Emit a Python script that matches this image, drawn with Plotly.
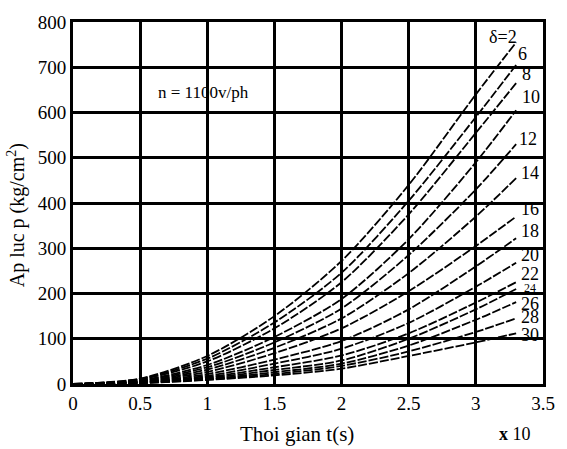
import plotly.graph_objects as go

# Time (x10 s) sample points
t = [0, 0.5, 1.0, 1.5, 2.0, 2.5, 3.0, 3.3]

# Pressure curves p (kg/cm^2) for each delta value
deltas = [2, 6, 8, 10, 12, 14, 16, 18, 20, 22, 24, 26, 28, 30]
p_d2  = [0, 12, 62, 150, 272, 440, 640, 755]
p_d6  = [0, 11, 56, 136, 246, 405, 590, 705]
p_d8  = [0, 10, 50, 123, 225, 375, 555, 665]
p_d10 = [0, 8, 42, 104, 188, 320, 490, 605]
p_d12 = [0, 7, 37, 92, 167, 285, 430, 530]
p_d14 = [0, 6, 32, 80, 145, 245, 370, 455]
p_d16 = [0, 5, 27, 68, 123, 205, 305, 370]
p_d18 = [0, 4, 22, 54, 95, 165, 260, 322]
p_d20 = [0, 4, 18, 45, 78, 135, 215, 268]
p_d22 = [0, 3, 15, 37, 63, 112, 180, 225]
p_d24 = [0, 3, 13, 31, 52, 100, 165, 210]
p_d26 = [0, 3, 11, 26, 45, 85, 142, 181]
p_d28 = [0, 2, 10, 22, 40, 72, 115, 145]
p_d30 = [0, 2, 9, 19, 34, 62, 92, 112]
series = [p_d2, p_d6, p_d8, p_d10, p_d12, p_d14, p_d16, p_d18,
          p_d20, p_d22, p_d24, p_d26, p_d28, p_d30]
labels = ["δ=2", "6", "8", "10", "12", "14", "16", "18",
          "20", "22", "24", "26", "28", "30"]

x_ticks = [0, 0.5, 1, 1.5, 2, 2.5, 3, 3.5]
x_ticktext = ["0", "0.5", "1", "1.5", "2", "2.5", "3", "3.5"]
y_ticks = [0, 100, 200, 300, 400, 500, 600, 700, 800]
y_ticktext = ["0", "100", "200", "300", "400", "500", "600", "700", "800"]

# label placement offsets (style only)
lab_dx = [-0.1, 0.05, 0.08, 0.11, 0.09, 0.1, 0.1, 0.1, 0.1, 0.1, 0.1, 0.1, 0.1, 0.1]
lab_dy = [12, 24, 20, 30, 12, 12, 16, 16, 16, 18, 2, -4, 2, -4]
lab_size = [18, 18, 18, 18, 18, 18, 18, 18, 18, 18, 12, 18, 18, 18]

FONT = "Liberation Serif, serif"


def serif(s):
    return "<span style=\"font-family:'Liberation Serif',serif\">" + s + "</span>"


fig = go.Figure()
for ys in series:
    fig.add_trace(go.Scatter(
        x=t, y=ys, mode="lines",
        line=dict(color="black", width=1.8, dash="9px,2px", shape="spline", smoothing=0.8),
        showlegend=False, hoverinfo="skip"))

for lab, ys, dx, dy, sz in zip(labels, series, lab_dx, lab_dy, lab_size):
    fig.add_annotation(x=t[-1] + dx, y=ys[-1] + dy, text=lab, showarrow=False,
                       xanchor="center", yanchor="middle",
                       font=dict(family=FONT, size=sz, color="black"))

fig.add_annotation(x=0.975, y=644, text="n = 1100v/ph", showarrow=False,
                   xanchor="center", yanchor="middle",
                   font=dict(family=FONT, size=17, color="black"))
fig.add_annotation(xref="paper", yref="paper", x=0.477, y=-0.138,
                   text="Thoi gian t(s)", showarrow=False,
                   xanchor="center", yanchor="middle",
                   font=dict(family=FONT, size=21, color="black"))
fig.add_annotation(xref="paper", yref="paper", x=0.94, y=-0.138,
                   text="<b>x</b> 10", showarrow=False,
                   xanchor="center", yanchor="middle",
                   font=dict(family=FONT, size=18, color="black"))
fig.add_annotation(xref="paper", yref="paper", x=-0.12, y=0.465,
                   text="Ap luc p (kg/cm<sup>2</sup>)", showarrow=False, textangle=-90,
                   xanchor="center", yanchor="middle",
                   font=dict(family=FONT, size=20, color="black"))

fig.update_xaxes(range=[0, 3.5], tickvals=x_ticks, ticktext=[serif(s) for s in x_ticktext],
                 showgrid=True, gridcolor="black", gridwidth=2.5,
                 showline=True, linecolor="black", linewidth=3, mirror=True,
                 zeroline=False, ticks="",
                 tickfont=dict(family=FONT, size=19, color="black"))
fig.update_yaxes(range=[0, 800], tickvals=y_ticks, ticktext=[serif(s) for s in y_ticktext],
                 showgrid=True, gridcolor="black", gridwidth=2.5,
                 showline=True, linecolor="black", linewidth=3, mirror=True,
                 zeroline=False, ticks="",
                 tickfont=dict(family=FONT, size=19, color="black"))

fig.update_layout(width=567, height=449,
                  margin=dict(l=73, r=24, t=14, b=65),
                  paper_bgcolor="white", plot_bgcolor="white",
                  font=dict(family=FONT, color="black"))

fig.write_html("out.html")
